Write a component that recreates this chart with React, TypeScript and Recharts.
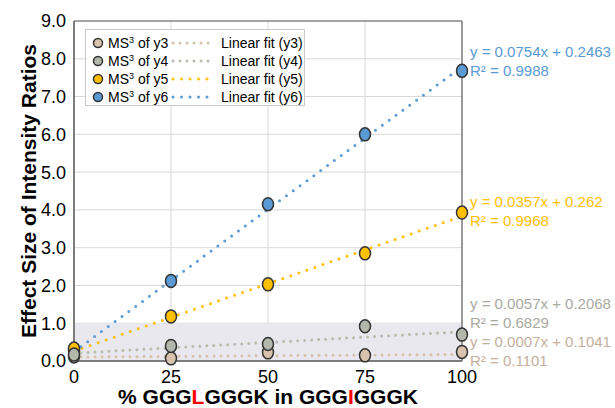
import {
  LineChart,
  Line,
  XAxis,
  YAxis,
  CartesianGrid,
  ReferenceArea,
  ReferenceLine,
  ReferenceDot,
  Label,
} from 'recharts'

const X = [0, 25, 50, 75, 100]
const Y3 = [0.12, 0.07, 0.23, 0.15, 0.24]
const Y4 = [0.17, 0.4, 0.45, 0.92, 0.7]
const Y5 = [0.33, 1.18, 2.03, 2.85, 3.93]
const Y6 = [0.28, 2.12, 4.15, 6.0, 7.68]

const SERIES = ['y3', 'y4', 'y5', 'y6']
const SLOPES = [0.0007, 0.0057, 0.0357, 0.0754]
const INTERCEPTS = [0.1041, 0.2068, 0.262, 0.2463]
const R2 = ['0.1101', '0.6829', '0.9968', '0.9988']
const EQ_TEXT = ['y = 0.0007x + 0.1041', 'y = 0.0057x + 0.2068', 'y = 0.0357x + 0.262', 'y = 0.0754x + 0.2463']
// where the equation block sits (data units, centred between the two lines)
const EQ_ANCHOR = [0.26, 1.28, 3.97, 7.95]

const Y_TICKS = [0, 1, 2, 3, 4, 5, 6, 7, 8, 9]
const X_TICKS = [0, 25, 50, 75, 100]

const FILL = ['#d8c4ae', '#b4b8ac', '#ffc000', '#5b9bd5']
const LINE = ['#d6c2ab', '#b9bcae', '#ffc000', '#5b9bd5']
const TEXT = ['#c4b09c', '#a7aaa1', '#ffc000', '#5b9bd5']
const DASH = ['0 7', '0 7', '0 8.5', '0 8.5']

const FONT = '"Liberation Sans", Arial, sans-serif'

const values = [Y3, Y4, Y5, Y6]
const pointData = values.map(v => X.map((x, i) => ({ x, y: v[i] })))
const fitData = SLOPES.map((s, i) => [0, 100].map(x => ({ x, y: s * x + INTERCEPTS[i] })))

function EllipseDot(props: any) {
  const { cx, cy, fill } = props
  if (cx == null || cy == null) return null
  return <ellipse cx={cx} cy={cy} rx={5.5} ry={6.5} fill={fill} stroke="#333" strokeWidth={1.5} />
}

function XLabel(props: any) {
  const { viewBox } = props
  const cx = viewBox.x + viewBox.width / 2
  return (
    <text x={cx} y={viewBox.y + 43} textAnchor="middle" fontFamily={FONT} fontWeight="bold" fontSize={21} fill="#000">
      % GGG<tspan fill="#ff0000">L</tspan>GGGK in GGG<tspan fill="#ff0000">I</tspan>GGGK
    </text>
  )
}

function YLabel(props: any) {
  const { viewBox } = props
  const cy = viewBox.y + viewBox.height / 2
  const cx = 28
  return (
    <text
      x={cx}
      y={cy}
      transform={`rotate(-90, ${cx}, ${cy})`}
      textAnchor="middle"
      dominantBaseline="central"
      fontFamily={FONT}
      fontWeight="bold"
      fontSize={21}
      fill="#000"
    >
      Effect Size of Intensity Ratios
    </text>
  )
}

function eqLabel(i: number) {
  return (props: any) => {
    const { viewBox } = props
    const x = viewBox.x + viewBox.width / 2 + 8
    const y = viewBox.y + viewBox.height / 2
    return (
      <text fontFamily={FONT} fontSize={15} fill={TEXT[i]}>
        <tspan x={x} y={y - 9.5} dominantBaseline="central">{EQ_TEXT[i]}</tspan>
        <tspan x={x} y={y + 9.5} dominantBaseline="central">R² = {R2[i]}</tspan>
      </text>
    )
  }
}

function LegendBox() {
  const order = [0, 1, 2, 3]
  return (
    <div
      style={{
        position: 'absolute',
        left: 85,
        top: 29,
        width: 220,
        height: 77,
        background: '#fff',
        border: '1px solid #c8c8c8',
        fontFamily: FONT,
        fontSize: 14,
        color: '#000',
        boxSizing: 'border-box',
        paddingTop: 4,
      }}
    >
      {order.map(i => (
        <div key={i} style={{ display: 'flex', alignItems: 'center', height: 18, whiteSpace: 'nowrap' }}>
          <svg width={22} height={18}>
            <circle cx={12} cy={9} r={4.5} fill={FILL[i]} stroke="#333" strokeWidth={1.5} />
          </svg>
          <span style={{ width: 62 }}>
            MS<sup style={{ fontSize: 9, verticalAlign: 5, lineHeight: 0 }}>3</sup> of {SERIES[i]}
          </span>
          <svg width={51} height={18}>
            <line x1={3} y1={9} x2={45} y2={9} stroke={LINE[i]} strokeWidth={3} strokeDasharray={DASH[i]} strokeLinecap="round" />
          </svg>
          <span>Linear fit ({SERIES[i]})</span>
        </div>
      ))}
    </div>
  )
}

export default function App() {
  const drawOrder = [0, 3, 2, 1]
  return (
    <div style={{ position: 'absolute', left: 0, top: 0, width: 615, height: 408, background: '#fff' }}>
      <LineChart width={615} height={408} margin={{ top: 21, right: 153, bottom: 17, left: 24 }}>
        <ReferenceArea y1={0} y2={1} fill="#e8e8ee" fillOpacity={1} stroke="none" />
        <CartesianGrid stroke="#d9d9d9" strokeWidth={1} />
        <XAxis
          type="number"
          dataKey="x"
          domain={[0, 100]}
          ticks={X_TICKS}
          height={30}
          tickSize={0}
          tickMargin={9}
          tick={{ fontSize: 18, fill: '#000', fontFamily: FONT }}
          axisLine={{ stroke: '#595959', strokeWidth: 1.5 }}
          tickLine={false}
        >
          <Label content={XLabel} />
        </XAxis>
        <YAxis
          type="number"
          domain={[0, 9]}
          ticks={Y_TICKS}
          width={50}
          tickSize={0}
          tickMargin={8}
          tickFormatter={v => v.toFixed(1)}
          tick={{ fontSize: 18, fill: '#000', fontFamily: FONT }}
          axisLine={{ stroke: '#595959', strokeWidth: 1.5 }}
          tickLine={false}
        >
          <Label content={YLabel} />
        </YAxis>
        <ReferenceLine y={9} stroke="#8c8c8c" strokeWidth={1.5} />
        <ReferenceLine x={100} stroke="#7f7f7f" strokeWidth={1.5} />
        {fitData.map((d, i) => (
          <Line
            key={'fit' + i}
            data={d}
            dataKey="y"
            type="linear"
            stroke={LINE[i]}
            strokeWidth={3}
            strokeDasharray={DASH[i]}
            strokeLinecap="round"
            dot={false}
            activeDot={false}
            isAnimationActive={false}
          />
        ))}
        {drawOrder.map(i => (
          <Line
            key={'pts' + i}
            data={pointData[i]}
            dataKey="y"
            stroke="none"
            fill={FILL[i]}
            dot={<EllipseDot fill={FILL[i]} />}
            activeDot={false}
            isAnimationActive={false}
          />
        ))}
        {EQ_ANCHOR.map((a, i) => (
          <ReferenceDot
            key={'eq' + i}
            x={100}
            y={a}
            r={0}
            fill="none"
            stroke="none"
            ifOverflow="visible"
            label={eqLabel(i)}
          />
        ))}
      </LineChart>
      <LegendBox />
    </div>
  )
}
